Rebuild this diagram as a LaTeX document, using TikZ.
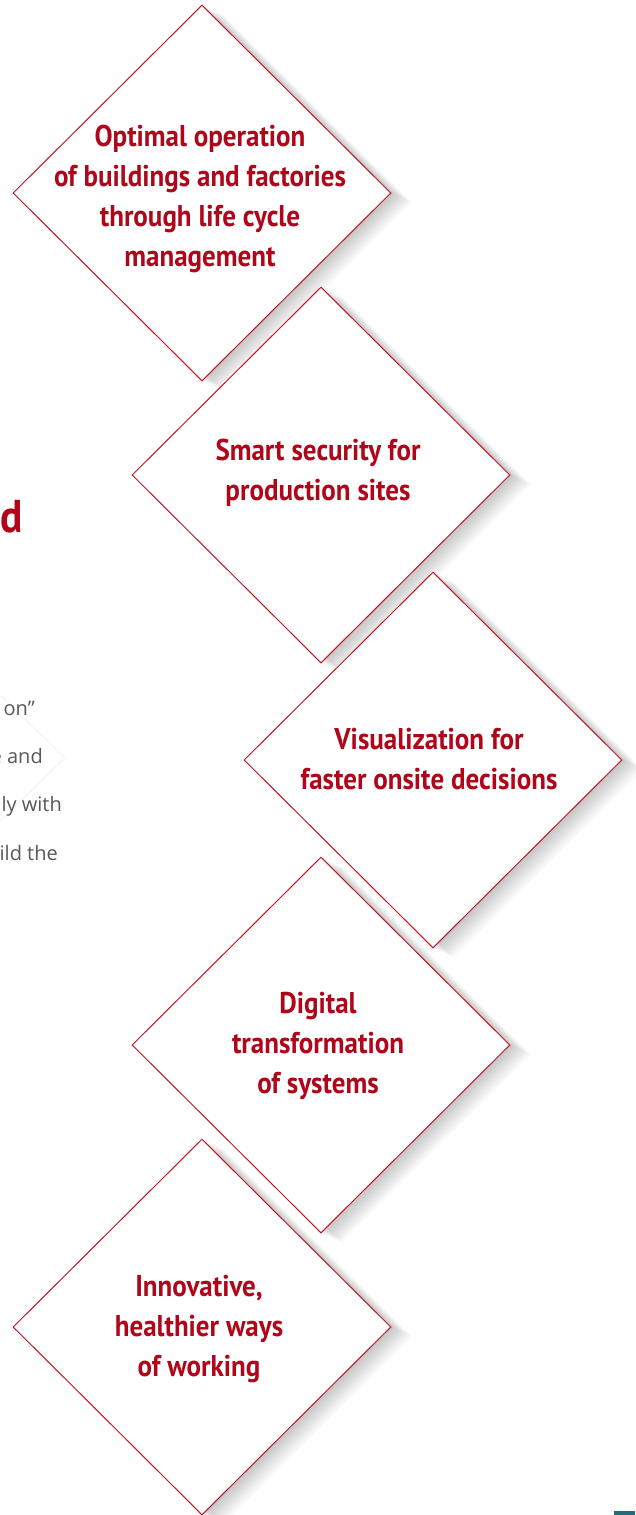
\documentclass[tikz,border=0pt]{standalone}
\usepackage{fontspec}
\setmainfont{PT Sans}
\newfontfamily\dfont[FakeStretch=0.9]{PT Sans}
\newfontfamily\gfont{Open Sans}
\usetikzlibrary{shapes.geometric}
\definecolor{dred}{RGB}{176,6,26}
\definecolor{lred}{RGB}{192,22,38}
\definecolor{gtext}{RGB}{88,88,88}
\definecolor{teal1}{RGB}{30,110,125}
\tikzset{
  dlabel/.style={text=dred, font=\dfont\bfseries\fontsize{30}{40}\selectfont, align=center, inner sep=0pt},
  dshape/.style={shape=diamond, draw=lred, fill=white, line width=1pt, minimum width=378pt, minimum height=376pt, inner sep=0pt},
  gline/.style={anchor=base east, text=gtext, font=\gfont\fontsize{20}{24}\selectfont, inner sep=0pt},
}
\begin{document}
\begin{tikzpicture}[x=1pt,y=-1pt]
\useasboundingbox (0,0) rectangle (635,1515);
\fill[white] (0,0) rectangle (635,1515);
% faint background chevron
\draw[black!4, line width=1pt] (0,695) -- (65,758) -- (0,821);
% left partial texts
\node[anchor=base west, text=dred, font=\dfont\bfseries\fontsize{46}{50}\selectfont, inner sep=0pt] (hd) at (0,532) {d};
\node[gline] (g1) at (35,715) {on”};
\node[gline] (g2) at (43,763) {e and};
\node[gline] (g3) at (62,811) {ly with};
\node[gline] (g4) at (58,860) {ild the};
% shadows
\foreach \cx/\cy in {202/193,321/475,433/760,321/1045,202/1327}{
  \foreach \k in {1,...,14}{
    \fill[black,opacity=0.015] (\cx+1.5*\k,\cy+0.7*\k-188) -- (\cx+1.5*\k+189,\cy+0.7*\k) -- (\cx+1.5*\k,\cy+0.7*\k+188) -- (\cx+1.5*\k-189,\cy+0.7*\k) -- cycle;
  }
}
% diamonds
\node[dshape] (d1) at (202,193) {};
\node[dshape] (d2) at (321,475) {};
\node[dshape] (d3) at (433,760) {};
\node[dshape] (d4) at (321,1045) {};
\node[dshape] (d5) at (202,1327) {};
% labels
\node[dlabel] (t1) at (200,199) {Optimal operation\\of buildings and factories\\through life cycle\\management};
\node[dlabel] (t2) at (318,473) {Smart security for\\production sites};
\node[dlabel] (t3) at (429,759) {Visualization for\\faster onsite decisions};
\node[dlabel] (t4) at (318,1046) {Digital\\transformation\\of systems};
\node[dlabel] (t5) at (199,1329) {Innovative,\\healthier ways\\of working};
% teal corner bar
\fill[teal1] (614,1511) rectangle (635,1515);
\end{tikzpicture}
\end{document}
